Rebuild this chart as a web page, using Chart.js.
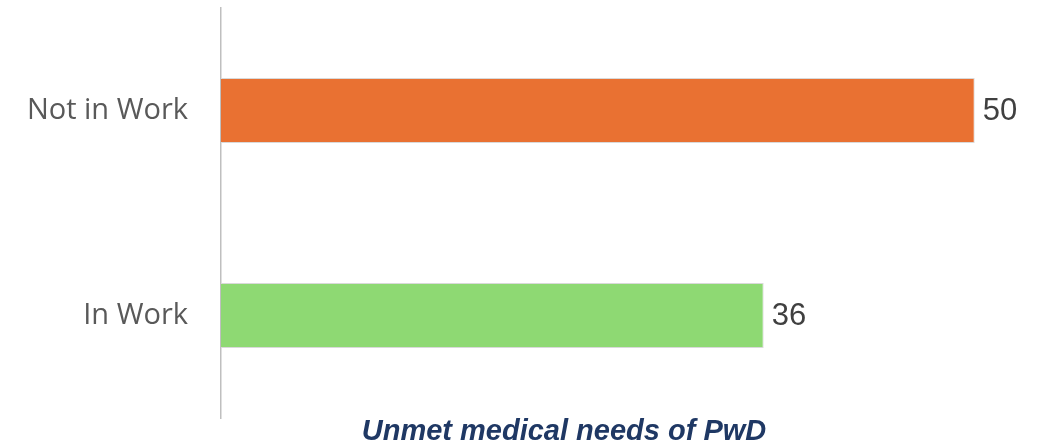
<!DOCTYPE html>
<html>
<head>
<meta charset="utf-8">
<script src="https://cdn.jsdelivr.net/npm/chart.js@4/dist/chart.umd.min.js"></script>
<style>
  html, body { margin:0; padding:0; background:#fff; overflow:hidden; }
  canvas { display:block; }
</style>
</head>
<body>
<canvas id="needsChart" width="1043" height="447"></canvas>
<script>
// categories top to bottom
const groups = ['Not in Work', 'In Work'];
const unmetNeeds = [50, 36];
const barColors = ['#E97132', '#8ED973'];
const chartTitle = 'Unmet medical needs of PwD';

// value text at the end of each bar
const endLabels = {
  id: 'endLabels',
  afterDatasetsDraw(chart) {
    const ctx = chart.ctx;
    const meta = chart.getDatasetMeta(0);
    ctx.save();
    ctx.font = '31px "Liberation Sans", Arial, sans-serif';
    ctx.fillStyle = '#404040';
    ctx.textAlign = 'left';
    ctx.textBaseline = 'middle';
    meta.data.forEach((bar, i) => {
      ctx.fillText(String(unmetNeeds[i]), bar.x + 8, bar.y + 1);
    });
    ctx.restore();
  }
};

// caption under the plot, a bit right of the canvas centre
const caption = {
  id: 'caption',
  afterDraw(chart) {
    const ctx = chart.ctx;
    ctx.save();
    ctx.font = 'italic bold 29px "Liberation Sans", Arial, sans-serif';
    ctx.fillStyle = '#1F3864';
    ctx.textAlign = 'center';
    ctx.textBaseline = 'middle';
    ctx.fillText(chartTitle, 564, chart.chartArea.bottom + 14);
    ctx.restore();
  }
};

new Chart(document.getElementById('needsChart'), {
  type: 'bar',
  data: {
    labels: groups,
    datasets: [{
      data: unmetNeeds,
      backgroundColor: barColors,
      borderColor: '#D9D9D9',
      borderWidth: 1,
      categoryPercentage: 1,
      barPercentage: 0.318
    }]
  },
  options: {
    indexAxis: 'y',
    responsive: false,
    devicePixelRatio: 1,
    animation: false,
    layout: { padding: { top: 8, right: 8, left: 0, bottom: 29 } },
    plugins: {
      legend: { display: false },
      tooltip: { enabled: false },
      title: { display: false }
    },
    scales: {
      x: {
        display: false,
        min: 0,
        max: 54
      },
      y: {
        afterFit: s => {
          s.width = 221;
          // no extra room above/below for the tick labels
          s.paddingTop = 0;
          s.paddingBottom = 0;
        },
        grid: { display: false, drawTicks: false },
        border: { display: true, color: '#BFBFBF', width: 1.5 },
        ticks: {
          color: '#595959',
          padding: 33,
          font: { family: '"Open Sans", "Noto Sans", sans-serif', size: 29 }
        }
      }
    }
  },
  plugins: [endLabels, caption]
});
</script>
</body>
</html>
